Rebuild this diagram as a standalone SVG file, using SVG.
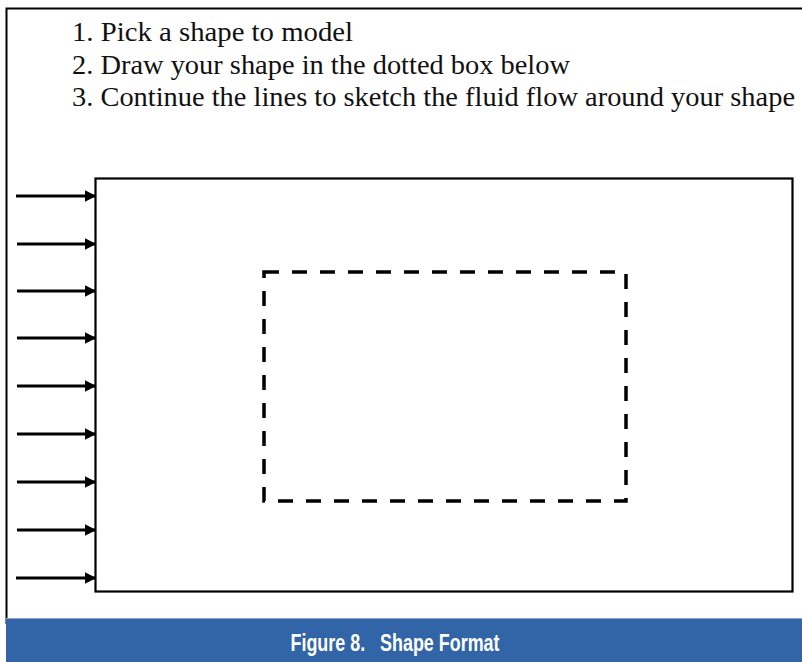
<svg xmlns="http://www.w3.org/2000/svg" width="802" height="662" viewBox="0 0 802 662">
<defs>
<style>
.instr{font-family:"Liberation Serif","Times New Roman",serif;font-size:28px;fill:#111}
.cap{font-family:"Liberation Sans",Arial,sans-serif;font-weight:bold;font-size:24px;fill:#fff}
.flow{stroke:#000;stroke-width:3.2;fill:none;marker-end:url(#ah)}
</style>
<marker id="ah" markerWidth="4" markerHeight="4" refX="3.2" refY="2" orient="auto" markerUnits="strokeWidth">
<path d="M0,0.2 L3.6,2 L0,3.8 Z" fill="#000"/>
</marker>
</defs>
<rect width="802" height="662" fill="#fff"/>
<g id="frame">
<path d="M6.5,624 V8.5 H802" fill="none" stroke="#000" stroke-width="2"/>
</g>
<g id="instructions">
<text class="instr" x="72" y="41" textLength="281" lengthAdjust="spacingAndGlyphs">1. Pick a shape to model</text>
<text class="instr" x="72" y="74" textLength="498" lengthAdjust="spacingAndGlyphs">2. Draw your shape in the dotted box below</text>
<text class="instr" x="72" y="106" textLength="723" lengthAdjust="spacingAndGlyphs">3. Continue the lines to sketch the fluid flow around your shape</text>
</g>
<g id="domain">
<rect x="95.5" y="178.5" width="697" height="413" fill="none" stroke="#000" stroke-width="2.2"/>
</g>
<g id="shape-area">
<rect x="264" y="272" width="362" height="229" fill="none" stroke="#000" stroke-width="3.5" stroke-dasharray="15 13"/>
</g>
<g id="connectors">
<line class="flow" x1="16" y1="196" x2="95" y2="196"/>
<line class="flow" x1="17" y1="244" x2="95" y2="244"/>
<line class="flow" x1="17" y1="291" x2="95" y2="291"/>
<line class="flow" x1="17" y1="338" x2="95" y2="338"/>
<line class="flow" x1="17" y1="386" x2="95" y2="386"/>
<line class="flow" x1="17" y1="434" x2="95" y2="434"/>
<line class="flow" x1="17" y1="482" x2="95" y2="482"/>
<line class="flow" x1="17" y1="530" x2="95" y2="530"/>
<line class="flow" x1="16" y1="578" x2="95" y2="578"/>
</g>
<g id="caption">
<rect x="6" y="618" width="796" height="44" fill="#3265a7"/>
<line x1="6" y1="618.5" x2="802" y2="618.5" stroke="#8aa6cf" stroke-width="1"/>
<text class="cap" x="395" y="651" text-anchor="middle" textLength="209" lengthAdjust="spacingAndGlyphs" xml:space="preserve">Figure 8.   Shape Format</text>
</g>
</svg>
